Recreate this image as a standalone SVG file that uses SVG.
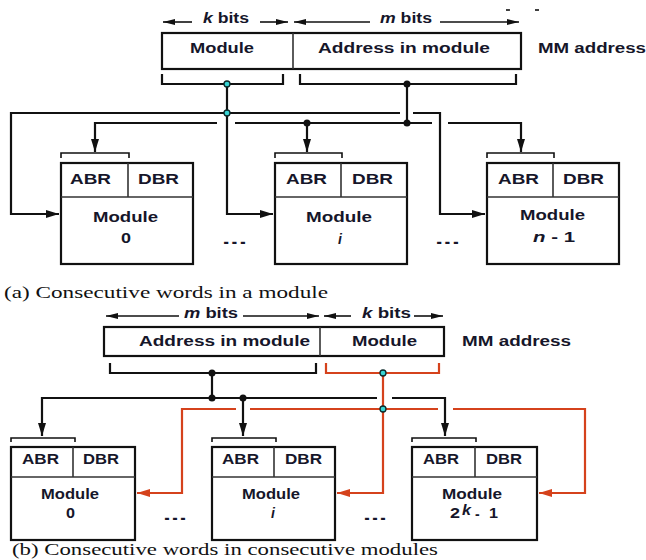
<svg xmlns="http://www.w3.org/2000/svg" width="646" height="560" viewBox="0 0 646 560">
  <defs>
    <style>
      .lbl { font-family: "Liberation Sans", Arial, sans-serif; font-weight: bold; font-size: 14px; fill: #16162a; }
      .it { font-style: italic; }
      .cap { font-family: "Liberation Serif", "Times New Roman", serif; font-size: 16.5px; fill: #111; }
      .box { fill: #fff; stroke: #111; stroke-width: 2.2; }
      .div { fill: none; stroke: #333; stroke-width: 1.6; }
      .w { fill: none; stroke: #111; stroke-width: 2.2; }
      .r { fill: none; stroke: #d5421c; stroke-width: 2.2; }
      .thin { fill: none; stroke: #111; stroke-width: 1.6; }
      .dot { fill: #111; }
      .cy { fill: #38d4d4; stroke: #0c2a2a; stroke-width: 1.3; }
    </style>
    <marker id="ah" markerUnits="userSpaceOnUse" markerWidth="14" markerHeight="10" refX="13" refY="4" orient="auto">
      <path d="M0,0 L13,4 L0,8 z" fill="#111"/>
    </marker>
    <marker id="ahr" markerUnits="userSpaceOnUse" markerWidth="14" markerHeight="10" refX="13" refY="4" orient="auto">
      <path d="M0,0 L13,4 L0,8 z" fill="#d5421c"/>
    </marker>
    <marker id="bit" markerUnits="userSpaceOnUse" markerWidth="14" markerHeight="8" refX="12" refY="3" orient="auto">
      <path d="M0,0 L12,3 L0,6 z" fill="#111"/>
    </marker>
  </defs>

  <!-- ===== (a) consecutive words in a module ===== -->
  <g id="a-address">
    <rect class="box" x="162" y="33" width="359" height="36"/>
    <line class="div" x1="293" y1="33" x2="293" y2="69"/>
    <text class="lbl" x="190" y="53" textLength="64" lengthAdjust="spacingAndGlyphs">Module</text>
    <text class="lbl" x="318" y="53" textLength="172" lengthAdjust="spacingAndGlyphs">Address in module</text>
    <text class="lbl" x="538" y="53" textLength="108" lengthAdjust="spacingAndGlyphs">MM address</text>
    <text class="lbl" x="203" y="23" textLength="46" lengthAdjust="spacingAndGlyphs"><tspan class="it">k</tspan> bits</text>
    <text class="lbl" x="380" y="23" textLength="52" lengthAdjust="spacingAndGlyphs"><tspan class="it">m</tspan> bits</text>
    <line class="thin" x1="192" y1="22" x2="163" y2="22" marker-end="url(#bit)"/>
    <line class="thin" x1="260" y1="22" x2="288" y2="22" marker-end="url(#bit)"/>
    <line class="thin" x1="370" y1="22" x2="294" y2="22" marker-end="url(#bit)"/>
    <line class="thin" x1="440" y1="22" x2="519" y2="22" marker-end="url(#bit)"/>
    <line class="thin" x1="506" y1="10" x2="510" y2="10"/>
    <line class="thin" x1="535" y1="10" x2="539" y2="10"/>
  </g>

  <g id="a-module-0">
    <rect class="box" x="61" y="163" width="132" height="101"/>
    <line class="div" x1="128" y1="163" x2="128" y2="197"/>
    <line class="div" x1="61" y1="197" x2="193" y2="197"/>
    <path class="thin" d="M61,158 V153 H129 V158"/>
    <text class="lbl" x="70" y="184" textLength="41" lengthAdjust="spacingAndGlyphs">ABR</text>
    <text class="lbl" x="138" y="184" textLength="41" lengthAdjust="spacingAndGlyphs">DBR</text>
    <text class="lbl" x="93" y="222" textLength="65" lengthAdjust="spacingAndGlyphs">Module</text>
    <text class="lbl" x="121" y="243" textLength="10" lengthAdjust="spacingAndGlyphs">0</text>
  </g>

  <g id="a-module-i">
    <rect class="box" x="275" y="163" width="132" height="101"/>
    <line class="div" x1="341" y1="163" x2="341" y2="197"/>
    <line class="div" x1="275" y1="197" x2="407" y2="197"/>
    <path class="thin" d="M275,158 V153 H342 V158"/>
    <text class="lbl" x="286" y="184" textLength="41" lengthAdjust="spacingAndGlyphs">ABR</text>
    <text class="lbl" x="352" y="184" textLength="41" lengthAdjust="spacingAndGlyphs">DBR</text>
    <text class="lbl" x="306" y="222" textLength="66" lengthAdjust="spacingAndGlyphs">Module</text>
    <text class="lbl it" x="340" y="244" text-anchor="middle">i</text>
  </g>

  <g id="a-module-n">
    <rect class="box" x="487" y="163" width="132" height="101"/>
    <line class="div" x1="553" y1="163" x2="553" y2="197"/>
    <line class="div" x1="487" y1="197" x2="619" y2="197"/>
    <path class="thin" d="M487,158 V153 H554 V158"/>
    <text class="lbl" x="498" y="184" textLength="41" lengthAdjust="spacingAndGlyphs">ABR</text>
    <text class="lbl" x="563" y="184" textLength="41" lengthAdjust="spacingAndGlyphs">DBR</text>
    <text class="lbl" x="520" y="220" textLength="65" lengthAdjust="spacingAndGlyphs">Module</text>
    <text class="lbl" x="533" y="242" textLength="42" lengthAdjust="spacingAndGlyphs"><tspan class="it">n</tspan> -  1</text>
  </g>

  <g id="a-ellipses">
    <text class="lbl" x="222" y="244" textLength="25" lengthAdjust="spacingAndGlyphs">...</text>
    <text class="lbl" x="435" y="244" textLength="25" lengthAdjust="spacingAndGlyphs">...</text>
  </g>

  <g id="a-connectors">
    <path class="w" d="M162,74 V84 H283 V74"/>
    <path class="w" d="M300,74 V84 H516 V74"/>
    <path class="w" d="M227,84 V214 H273" marker-end="url(#ah)"/>
    <path class="w" d="M400,113 H11 V214 H59" marker-end="url(#ah)"/>
    <path class="w" d="M413,113 H440 V214 H485" marker-end="url(#ah)"/>
    <path class="w" d="M407,84 V123"/>
    <path class="w" d="M217,123 H95 V152" marker-end="url(#ah)"/>
    <path class="w" d="M235,123 H432"/>
    <path class="w" d="M448,123 H521 V152" marker-end="url(#ah)"/>
    <path class="w" d="M307,123 V152" marker-end="url(#ah)"/>
    <circle class="dot" cx="407" cy="84" r="3.5"/>
    <circle class="dot" cx="407" cy="123" r="3.5"/>
    <circle class="dot" cx="307" cy="123" r="3.5"/>
    <circle class="cy" cx="227" cy="84" r="3"/>
    <circle class="cy" cx="227" cy="113" r="3"/>
  </g>

  <text class="cap" x="4" y="298" textLength="324" lengthAdjust="spacingAndGlyphs">(a) Consecutive words in a module</text>

  <!-- ===== (b) consecutive words in consecutive modules ===== -->
  <g id="b-address">
    <rect class="box" x="104" y="327" width="340" height="29"/>
    <line class="div" x1="320" y1="327" x2="320" y2="356"/>
    <text class="lbl" x="139" y="346" textLength="171" lengthAdjust="spacingAndGlyphs">Address in module</text>
    <text class="lbl" x="352" y="346" textLength="65" lengthAdjust="spacingAndGlyphs">Module</text>
    <text class="lbl" x="462" y="346" textLength="109" lengthAdjust="spacingAndGlyphs">MM address</text>
    <text class="lbl" x="184" y="318" textLength="54" lengthAdjust="spacingAndGlyphs"><tspan class="it">m</tspan> bits</text>
    <text class="lbl" x="362" y="318" textLength="49" lengthAdjust="spacingAndGlyphs"><tspan class="it">k</tspan>  bits</text>
    <line class="thin" x1="179" y1="316" x2="106" y2="316" marker-end="url(#bit)"/>
    <line class="thin" x1="243" y1="316" x2="319" y2="316" marker-end="url(#bit)"/>
    <line class="thin" x1="351" y1="316" x2="324" y2="316" marker-end="url(#bit)"/>
    <line class="thin" x1="414" y1="316" x2="443" y2="316" marker-end="url(#bit)"/>
  </g>

  <g id="b-module-0">
    <rect class="box" x="11" y="447" width="124" height="93"/>
    <line class="div" x1="73" y1="447" x2="73" y2="477"/>
    <line class="div" x1="11" y1="477" x2="135" y2="477"/>
    <path class="thin" d="M11,442 V438 H75 V442"/>
    <text class="lbl" x="22" y="464" textLength="37" lengthAdjust="spacingAndGlyphs">ABR</text>
    <text class="lbl" x="83" y="464" textLength="36" lengthAdjust="spacingAndGlyphs">DBR</text>
    <text class="lbl" x="41" y="499" textLength="58" lengthAdjust="spacingAndGlyphs">Module</text>
    <text class="lbl" x="66" y="518" textLength="9" lengthAdjust="spacingAndGlyphs">0</text>
  </g>

  <g id="b-module-i">
    <rect class="box" x="212" y="447" width="123" height="93"/>
    <line class="div" x1="274" y1="447" x2="274" y2="477"/>
    <line class="div" x1="212" y1="477" x2="335" y2="477"/>
    <path class="thin" d="M212,442 V438 H276 V442"/>
    <text class="lbl" x="222" y="464" textLength="37" lengthAdjust="spacingAndGlyphs">ABR</text>
    <text class="lbl" x="285" y="464" textLength="37" lengthAdjust="spacingAndGlyphs">DBR</text>
    <text class="lbl" x="242" y="499" textLength="58" lengthAdjust="spacingAndGlyphs">Module</text>
    <text class="lbl it" x="273" y="518" text-anchor="middle">i</text>
  </g>

  <g id="b-module-last">
    <rect class="box" x="412" y="447" width="125" height="93"/>
    <line class="div" x1="475" y1="447" x2="475" y2="477"/>
    <line class="div" x1="412" y1="477" x2="537" y2="477"/>
    <path class="thin" d="M412,442 V438 H476 V442"/>
    <text class="lbl" x="423" y="464" textLength="36" lengthAdjust="spacingAndGlyphs">ABR</text>
    <text class="lbl" x="486" y="464" textLength="36" lengthAdjust="spacingAndGlyphs">DBR</text>
    <text class="lbl" x="442" y="499" textLength="60" lengthAdjust="spacingAndGlyphs">Module</text>
    <text class="lbl" x="450" y="518" textLength="10" lengthAdjust="spacingAndGlyphs">2</text>
    <text class="lbl it" x="462" y="515" font-size="10" textLength="9" lengthAdjust="spacingAndGlyphs">k</text>
    <text class="lbl" x="475" y="519">-</text>
    <text class="lbl" x="489" y="518" textLength="9" lengthAdjust="spacingAndGlyphs">1</text>
  </g>

  <g id="b-ellipses">
    <text class="lbl" x="163" y="520" textLength="24" lengthAdjust="spacingAndGlyphs">...</text>
    <text class="lbl" x="363" y="520" textLength="24" lengthAdjust="spacingAndGlyphs">...</text>
  </g>

  <g id="b-connectors">
    <path class="w" d="M110,363 V373 H316 V363"/>
    <path class="r" d="M326,363 V373 H439 V363"/>
    <path class="w" d="M212,373 V398"/>
    <path class="w" d="M377,398 H42 V436" marker-end="url(#ah)"/>
    <path class="w" d="M392,398 H445 V436" marker-end="url(#ah)"/>
    <path class="w" d="M243,398 V436" marker-end="url(#ah)"/>
    <path class="r" d="M383,373 V493 H337" marker-end="url(#ahr)"/>
    <path class="r" d="M236,409 H182 V493 H137" marker-end="url(#ahr)"/>
    <path class="r" d="M250,409 H438"/>
    <path class="r" d="M453,409 H585 V493 H539" marker-end="url(#ahr)"/>
    <circle class="dot" cx="212" cy="373" r="3.5"/>
    <circle class="dot" cx="212" cy="398" r="3.5"/>
    <circle class="dot" cx="243" cy="398" r="3.5"/>
    <circle class="cy" cx="383" cy="373" r="3"/>
    <circle class="cy" cx="383" cy="409" r="3"/>
  </g>

  <text class="cap" x="12" y="555" textLength="426" lengthAdjust="spacingAndGlyphs">(b) Consecutive words in consecutive modules</text>
</svg>
